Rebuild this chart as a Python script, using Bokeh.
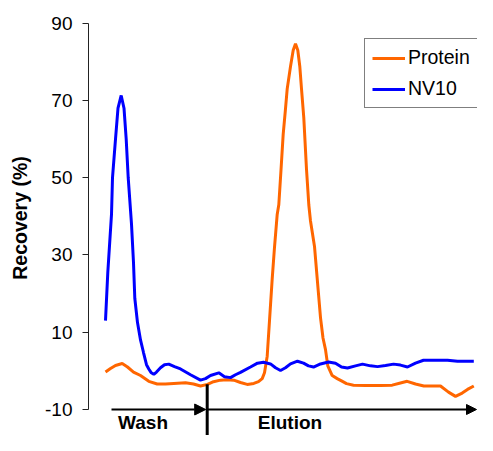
from bokeh.plotting import figure
from bokeh.models import Range1d, FixedTicker, Legend, LegendItem, Arrow, NormalHead
from bokeh.core.properties import value
from bokeh.embed import file_html
from bokeh.resources import INLINE

# ---- data (x in arbitrary run units, y = recovery %) ----
protein_x = [105, 110, 115, 121.7, 127, 133, 140, 148.3, 156.7, 165, 173.3, 185, 193, 200, 207, 213,
             220, 226, 233.3, 240, 246.7, 253.3, 258, 261.7, 264, 266.7, 269, 271.7, 274, 276.7,
             278.3, 280.5, 282.7, 284.7, 286.7, 290, 292.7, 295, 297.3, 299.3, 301, 303.3, 306,
             308.3, 310, 314, 317, 320, 322.5, 325, 327.3, 331.7, 336.7, 341, 346, 353, 365, 380,
             391.7, 399, 406.7, 415, 423.3, 432, 440, 448, 455, 461.7, 467, 473.3]
protein_y = [-0.3, 0.6, 1.4, 1.9, 1.0, -0.3, -1.2, -2.7, -3.4, -3.4, -3.25, -3.1, -3.4, -3.9, -3.5,
             -2.8, -2.4, -2.3, -2.4, -3.0, -3.5, -3.25, -2.8, -2.0, -0.5, 3.8, 13.0, 23.8, 32.0,
             40.5, 43.0, 52.0, 61.3, 67.0, 73.0, 78.8, 83.0, 84.7, 83.0, 78.8, 73.0, 65.5, 52.2,
             43.0, 38.8, 32.2, 23.0, 13.8, 8.5, 5.5, 1.3, -1.2, -2.0, -2.6, -3.3, -3.7, -3.8,
             -3.8, -3.7, -3.2, -2.7, -3.4, -3.9, -3.9, -3.9, -5.5, -6.6, -5.75, -4.8, -3.9]

nv10_x = [105, 107.3, 111, 112, 115, 117.5, 120.7, 123.5, 125.7, 127.7, 131, 133, 134.3, 137, 140,
          143, 146, 148.3, 150.5, 153.3, 156, 160, 164, 168.3, 174, 180, 190, 200, 205, 210,
          218.3, 224, 230, 235, 240, 250, 257, 263, 270, 275, 280, 285, 290, 297, 303, 308,
          313, 320, 328, 335, 341, 347, 355, 362, 370, 377, 385, 393, 400, 407, 415, 423,
          435, 447, 457, 465, 473.3]
nv10_y = [13.0, 25.5, 40.5, 50.0, 60.0, 68.0, 71.3, 68.0, 60.0, 50.0, 38.0, 28.0, 18.8, 12.5, 8.0,
          4.75, 1.6, 0.5, -0.4, -0.9, -0.3, 0.8, 1.6, 1.75, 1.1, 0.5, -1.0, -2.4, -2.0, -1.2,
          -0.5, -1.5, -1.75, -1.0, -0.4, 1.0, 2.0, 2.25, 1.8, 0.8, 0.1, 0.8, 1.8, 2.5, 2.0, 1.3,
          1.0, 1.8, 2.3, 2.0, 1.0, 0.75, 1.3, 1.75, 1.3, 1.1, 1.4, 1.75, 1.5, 1.0, 2.0, 2.75,
          2.75, 2.75, 2.5, 2.5, 2.5]

y_ticks = [-10, 10, 30, 50, 70, 90]
y_tick_labels = {-10: "-10", 10: "10", 30: "30", 50: "50", 70: "70", 90: "90"}
y_title = "Recovery (%)"
series_names = ["Protein", "NV10"]
series_colors = ["#FF6600", "#0000FF"]

# phase annotation values
arrow_y = -10
wash_start = 111
wash_end = 206.7
elution_end = 476
phase_labels = ["Wash", "Elution"]
phase_label_x = [142.5, 289.5]
phase_label_y = [-10.65, -10.65]
divider_top = -3.45
divider_bottom = -16.73

FONT = "Liberation Sans"

p = figure(width=477, height=435, output_backend="svg", toolbar_location=None,
           x_range=Range1d(88, 477), y_range=Range1d(-16.73, 95.88),
           x_axis_type=None, min_border_left=88, min_border_right=0,
           min_border_top=0, min_border_bottom=0)
p.outline_line_color = None
p.grid.visible = False
p.background_fill_color = "white"
p.border_fill_color = "white"

yax = p.yaxis[0]
yax.ticker = FixedTicker(ticks=y_ticks)
yax.major_label_overrides = y_tick_labels
yax.bounds = (-10, 90)
yax.axis_label = y_title
yax.axis_label_text_font = FONT
yax.axis_label_text_font_style = "bold"
yax.axis_label_text_font_size = "19.5px"
yax.axis_label_text_color = "black"
yax.axis_label_standoff = 11
yax.major_label_text_font = FONT
yax.major_label_text_font_size = "19px"
yax.major_label_text_color = "black"
yax.major_label_standoff = 10
yax.major_tick_out = 6
yax.major_tick_in = 0
yax.minor_tick_out = 0
yax.minor_tick_in = 0
yax.axis_line_color = "#222222"
yax.major_tick_line_color = "#222222"

r_prot = p.line(protein_x, protein_y, line_color=series_colors[0], line_width=3)
r_nv = p.line(nv10_x, nv10_y, line_color=series_colors[1], line_width=3)

legend = Legend(items=[LegendItem(label=series_names[0], renderers=[r_prot]),
                       LegendItem(label=series_names[1], renderers=[r_nv])],
                location=(276, 327))
legend.border_line_color = "black"
legend.border_line_width = 1
legend.background_fill_alpha = 1
legend.label_text_font = FONT
legend.label_text_font_size = "19.5px"
legend.label_text_color = "black"
legend.glyph_width = 33
legend.glyph_height = 20
legend.label_height = 20
legend.label_standoff = 3
legend.spacing = 8
legend.padding = 7
legend.margin = 0
p.add_layout(legend)

# phase arrows
p.add_layout(Arrow(x_start=wash_start, y_start=arrow_y, x_end=wash_end - 1.5, y_end=arrow_y,
                   line_width=2, line_color="black",
                   end=NormalHead(size=11, fill_color="black", line_color="black")))
p.add_layout(Arrow(x_start=wash_end, y_start=arrow_y, x_end=elution_end, y_end=arrow_y,
                   line_width=2, line_color="black",
                   end=NormalHead(size=10, fill_color="black", line_color="black")))
p.segment(x0=[wash_end], y0=[divider_top], x1=[wash_end], y1=[divider_bottom],
          line_width=3, line_color="black")

p.text(x=phase_label_x, y=phase_label_y, text=phase_labels, text_align="center",
       text_baseline="top", text_font=value(FONT), text_font_style="bold",
       text_font_size="19px", text_color="black")

open("out.html", "w").write(file_html(p, INLINE))
